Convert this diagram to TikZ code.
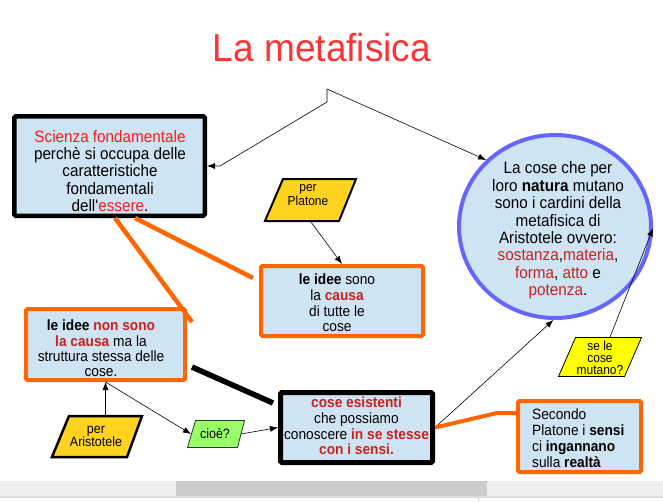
\documentclass[tikz,border=0pt]{standalone}
\usepackage{fontspec}
\setmainfont{Liberation Sans}[Ligatures=TeXOff, FakeStretch=0.92]
\newfontfamily\titlefont{Liberation Sans}[Ligatures=TeXOff, FakeStretch=0.95]
\usetikzlibrary{arrows.meta,shapes.geometric,calc}
\definecolor{boxfill}{HTML}{CFE4F2}
\definecolor{boxorange}{HTML}{FF6600}
\definecolor{circblue}{HTML}{6666FF}
\definecolor{gold}{HTML}{FFD320}
\definecolor{lgreen}{HTML}{99FF66}
\definecolor{yel}{HTML}{FFFF00}
\definecolor{bred}{HTML}{FF1A1A}
\definecolor{dred}{HTML}{C9211E}
\definecolor{titlered}{HTML}{FF3333}
\definecolor{sbarlight}{HTML}{EEEEEE}
\definecolor{sbardark}{HTML}{CCCCCC}
\definecolor{sbarline}{HTML}{DDDDDD}
\newcommand\fsz[2]{\fontsize{#1}{#2}\selectfont}
\newcommand\dr[1]{\textcolor{dred}{#1}}
\begin{document}
\begin{tikzpicture}[x=1pt,y=-1pt,
  box/.style={rectangle, fill=boxfill, inner sep=0pt, rounded corners=1.5pt},
  blackbox/.style={box, draw=black, line width=4.5pt},
  orangebox/.style={box, draw=boxorange, line width=4pt},
  txt/.style={align=center, inner sep=0pt, text=black},
  conn/.style={draw=black, line width=0.6pt, -{Latex[length=8pt,width=6pt]}},
  orangeline/.style={draw=boxorange, line width=4.5pt},
  blackline/.style={draw=black, line width=5.5pt},
  para/.style={line join=miter}
]
\useasboundingbox (0,0) rectangle (663,501);
\fill[white] (0,0) rectangle (663,501);

% title
\node[anchor=base, inner sep=0pt, text=titlered, font=\titlefont\fsz{39}{42}] (title) at (322,61) {La metafisica};

% boxes
\node[blackbox, minimum width=190.5pt, minimum height=99.5pt] (scienza) at (109.5,166) {};
\node[txt, font=\fsz{16.6}{17.3}] (scienzaT) at (110,171) {\textcolor{bred}{Scienza fondamentale}\\perchè si occupa delle\\caratteristiche\\fondamentali\\dell'\textcolor{bred}{essere}.};

\node[ellipse, draw=circblue, line width=4pt, fill=boxfill, minimum width=192pt, minimum height=183pt, inner sep=0pt] (circ) at (555,226.5) {};
\node[txt, font=\fsz{16.6}{17.4}] (circT) at (558,230.5) {La cose che per\\loro \textbf{natura} mutano\\sono i cardini della\\metafisica di\\Aristotele ovvero:\\\dr{sostanza},\dr{materia},\\\dr{forma}, \dr{atto} e\\\dr{potenza}.};

\node[orangebox, minimum width=159pt, minimum height=71pt] (nonsono) at (105.5,344.5) {};
\node[txt, font=\fsz{14.9}{15.4}] (nonsonoT) at (101,348.5) {\textbf{le idee} \dr{\textbf{non sono}}\\\dr{\textbf{la causa}} ma la\\struttura stessa delle\\cose.};

\node[orangebox, minimum width=162pt, minimum height=70pt] (ideeS) at (342,301) {};
\node[txt, font=\fsz{14.9}{15.7}] (ideeST) at (337,303) {\textbf{le idee} sono\\la \dr{\textbf{causa}}\\di tutte le\\cose};

\node[blackbox, line width=5pt, minimum width=152pt, minimum height=70pt] (cose) at (356.5,427.5) {};
\node[txt, font=\fsz{14.9}{15.7}] (coseT) at (356.5,426) {\dr{\textbf{cose esistenti}}\\che possiamo\\conoscere \dr{\textbf{in se stesse}}\\\dr{\textbf{con i sensi.}}};

\node[orangebox, minimum width=123pt, minimum height=71pt] (secondo) at (579.5,436.5) {};
\node[txt, align=left, anchor=west, font=\fsz{14.9}{16}] (secondoT) at (532,438.5) {Secondo\\Platone i \textbf{sensi}\\ci \textbf{ingannano}\\sulla \textbf{realtà}};

% parallelograms
\filldraw[para, fill=gold, draw=black, line width=2pt] (283,179) -- (356,179) -- (339,221) -- (265,221) -- cycle;
\node[txt, font=\fsz{13}{14}] (platoneT) at (308,195) {per\\Platone};
\coordinate (platoneB) at (311,222);

\filldraw[para, fill=gold, draw=black, line width=2.5pt] (69,416) -- (142,416) -- (127,457) -- (52,457) -- cycle;
\node[txt, font=\fsz{13.6}{13.5}] (aristT) at (96,436.5) {per\\Aristotele};
\coordinate (aristTop) at (105.5,415);

\filldraw[para, fill=lgreen, draw=black!80, line width=0.8pt] (195.5,420.5) -- (244.5,420.5) -- (237.5,447.5) -- (187.5,447.5) -- cycle;
\node[txt, font=\fsz{13.6}{14}] (cioeT) at (215,434) {cioè?};
\coordinate (cioeL) at (191,434);
\coordinate (cioeR) at (241,434);

\filldraw[para, fill=yel, draw=black, line width=0.8pt] (575.5,337.5) -- (641.5,337.5) -- (624.5,376.5) -- (558.5,376.5) -- cycle;
\node[txt, font=\fsz{13}{12}] (seleT) at (600,357.5) {se le\\cose\\mutano?};
\coordinate (seleTop) at (610,337);

% top connector
\coordinate (topA) at (327,89);
\coordinate (topB) at (327,102);
\coordinate (bend) at (220,166);
\draw[conn] (topA) -- (topB) -- (bend) -- (scienza.east);
\draw[conn] (topA) -- (circ.136.7);

% other connectors
\draw[conn] (platoneB) -- (ideeS.north);
\draw[conn] (aristTop) -- (nonsono.south);
\draw[conn] (nonsono.south) -- (cioeL);
\draw[conn] (cioeR) -- (cose.west);
\draw[conn] (cose.east) -- (circ.-91);
\draw[conn] (seleTop) -- (circ.-1);

% thick lines
\draw[orangeline] ([xshift=5.5pt]scienza.south) -- ([xshift=5pt,yshift=-15pt]nonsono.north east);
\draw[orangeline] ([xshift=25.5pt]scienza.south) -- ([xshift=-6pt,yshift=-14pt]ideeS.north west);
\draw[blackline] ([xshift=5pt,yshift=-22.5pt]nonsono.east) -- ([xshift=-5pt,yshift=-13pt]cose.north west);
\coordinate (obend) at (497,413);
\draw[orangeline, line width=4pt] (cose.east) -- (obend) -- ([yshift=23.5pt]secondo.west);

% scrollbar
\fill[sbarlight] (0,481) rectangle (663,496);
\fill[sbardark] (176,481) rectangle (487,496);
\fill[sbarline] (0,496) rectangle (663,497.5);
\draw[sbardark, line width=0.8pt] (478,498) -- (478,501);
\end{tikzpicture}
\end{document}
